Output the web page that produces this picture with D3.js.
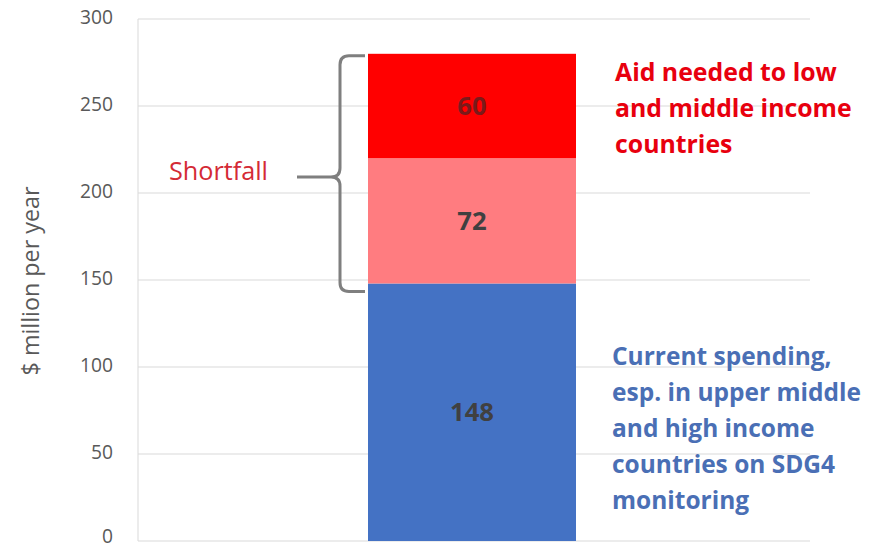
<!DOCTYPE html>
<html><head><meta charset="utf-8">
<script src="https://cdn.jsdelivr.net/npm/d3@7"></script>
<style>body{margin:0;background:#fff;} text{font-family:"Open Sans", Lato, sans-serif;}</style>
</head><body>
<svg id="c" width="877" height="548"></svg>
<script>
const categories = ["Total"];
const seriesNames = ["Current spending", "Shortfall part", "Aid needed"];
const seriesValues = [148, 72, 60];
const seriesColors = ["#4472c4", "#ff7c80", "#ff0000"];
const yTicks = [0, 50, 100, 150, 200, 250, 300];
const aidLabel = ["Aid needed to low", "and middle income", "countries"];
const currentLabel = ["Current spending,", "esp. in upper middle", "and high income", "countries on SDG4", "monitoring"];

(function () {
const svg = d3.select("#c");
const x0 = 138, x1 = 810, yTop = 19, yBot = 541;
const y = d3.scaleLinear().domain([0, 300]).range([yBot, yTop]);
const x = d3.scaleBand().domain(categories).range([x0 + 230, x0 + 438]).padding(0);

// font size that makes a string reach a target width
function fitSize(str, weight, target) {
  const t = svg.append("text").attr("font-size", 100).attr("font-weight", weight).text(str);
  const w = t.node().getComputedTextLength();
  t.remove();
  return 100 * target / w;
}

svg.append("g").selectAll("line").data(yTicks).join("line")
  .attr("x1", x0).attr("x2", x1).attr("y1", d => y(d)).attr("y2", d => y(d))
  .attr("stroke", "#d9d9d9").attr("stroke-width", 1);
svg.append("line").attr("x1", x0).attr("x2", x0).attr("y1", yTop).attr("y2", yBot)
  .attr("stroke", "#d9d9d9");
const tickSize = fitSize("300", "normal", 33);
const ax = svg.append("g").attr("transform", `translate(${x0 - 25},-2)`)
  .call(d3.axisLeft(y).tickValues(yTicks).tickSize(0).tickPadding(0));
ax.select(".domain").remove();
ax.selectAll("text").attr("font-family", "'Open Sans', sans-serif").attr("font-size", tickSize).attr("fill", "#595959");
ax.selectAll(".tick").filter(d => d === 0).select("text").attr("y", -3);

const titleSize = fitSize("$ million per year", "normal", 189);
svg.append("text").attr("transform", `translate(39,281) rotate(-90)`)
  .attr("text-anchor", "middle").attr("font-size", titleSize).attr("fill", "#595959").text("$ million per year");

const stack = [];
let acc = 0;
seriesValues.forEach((v, i) => { stack.push({ v, y0: acc, y1: acc + v, c: seriesColors[i] }); acc += v; });
svg.append("g").selectAll("rect").data(stack).join("rect")
  .attr("x", x("Total")).attr("width", x.bandwidth())
  .attr("y", d => y(d.y1)).attr("height", d => y(d.y0) - y(d.y1))
  .attr("fill", d => d.c);
const valSize = fitSize("148", "bold", 44);
svg.append("g").selectAll("text").data(stack).join("text")
  .attr("x", x("Total") + x.bandwidth() / 2)
  .attr("y", d => (y(d.y0) + y(d.y1)) / 2 + valSize * 0.36)
  .attr("text-anchor", "middle").attr("font-weight", "bold").attr("font-size", valSize)
  .attr("fill", (d, i) => i === 2 ? "#7a1a1a" : "#404040").text(d => d.v);

// brace spanning the shortfall (aid + gap)
const bx = x("Total") - 28, bTop = y(acc) + 2, bBot = y(seriesValues[0]) + 8, bMid = 177;
const r = 9;
const bp = d3.path();
bp.moveTo(bx + 25, bTop);
bp.lineTo(bx + r, bTop);
bp.quadraticCurveTo(bx, bTop, bx, bTop + r);
bp.lineTo(bx, bMid - r);
bp.quadraticCurveTo(bx, bMid, bx - r, bMid);
bp.lineTo(bx - 43, bMid);
bp.moveTo(bx - r, bMid);
bp.quadraticCurveTo(bx, bMid, bx, bMid + r);
bp.lineTo(bx, bBot - r);
bp.quadraticCurveTo(bx, bBot, bx + r, bBot);
bp.lineTo(bx + 25, bBot);
svg.append("path").attr("d", bp.toString()).attr("fill", "none")
  .attr("stroke", "#7f7f7f").attr("stroke-width", 3);

const sfSize = fitSize("Shortfall", "normal", 99);
svg.append("text").attr("x", 169).attr("y", 180).attr("font-size", sfSize).attr("fill", "#d42a35").text("Shortfall");

const aidSize = fitSize(aidLabel[0], "bold", 222);
svg.append("text").attr("font-weight", "bold").attr("font-size", aidSize).attr("fill", "#e8000e")
  .selectAll("tspan").data(aidLabel).join("tspan")
  .attr("x", 615).attr("y", (d, i) => 81 + i * 36).text(d => d);
const curSize = fitSize(currentLabel[1], "bold", 249);
svg.append("text").attr("font-weight", "bold").attr("font-size", curSize).attr("fill", "#4a6fb5")
  .selectAll("tspan").data(currentLabel).join("tspan")
  .attr("x", 612).attr("y", (d, i) => 365 + i * 36).text(d => d);
})();
</script>
</body></html>
